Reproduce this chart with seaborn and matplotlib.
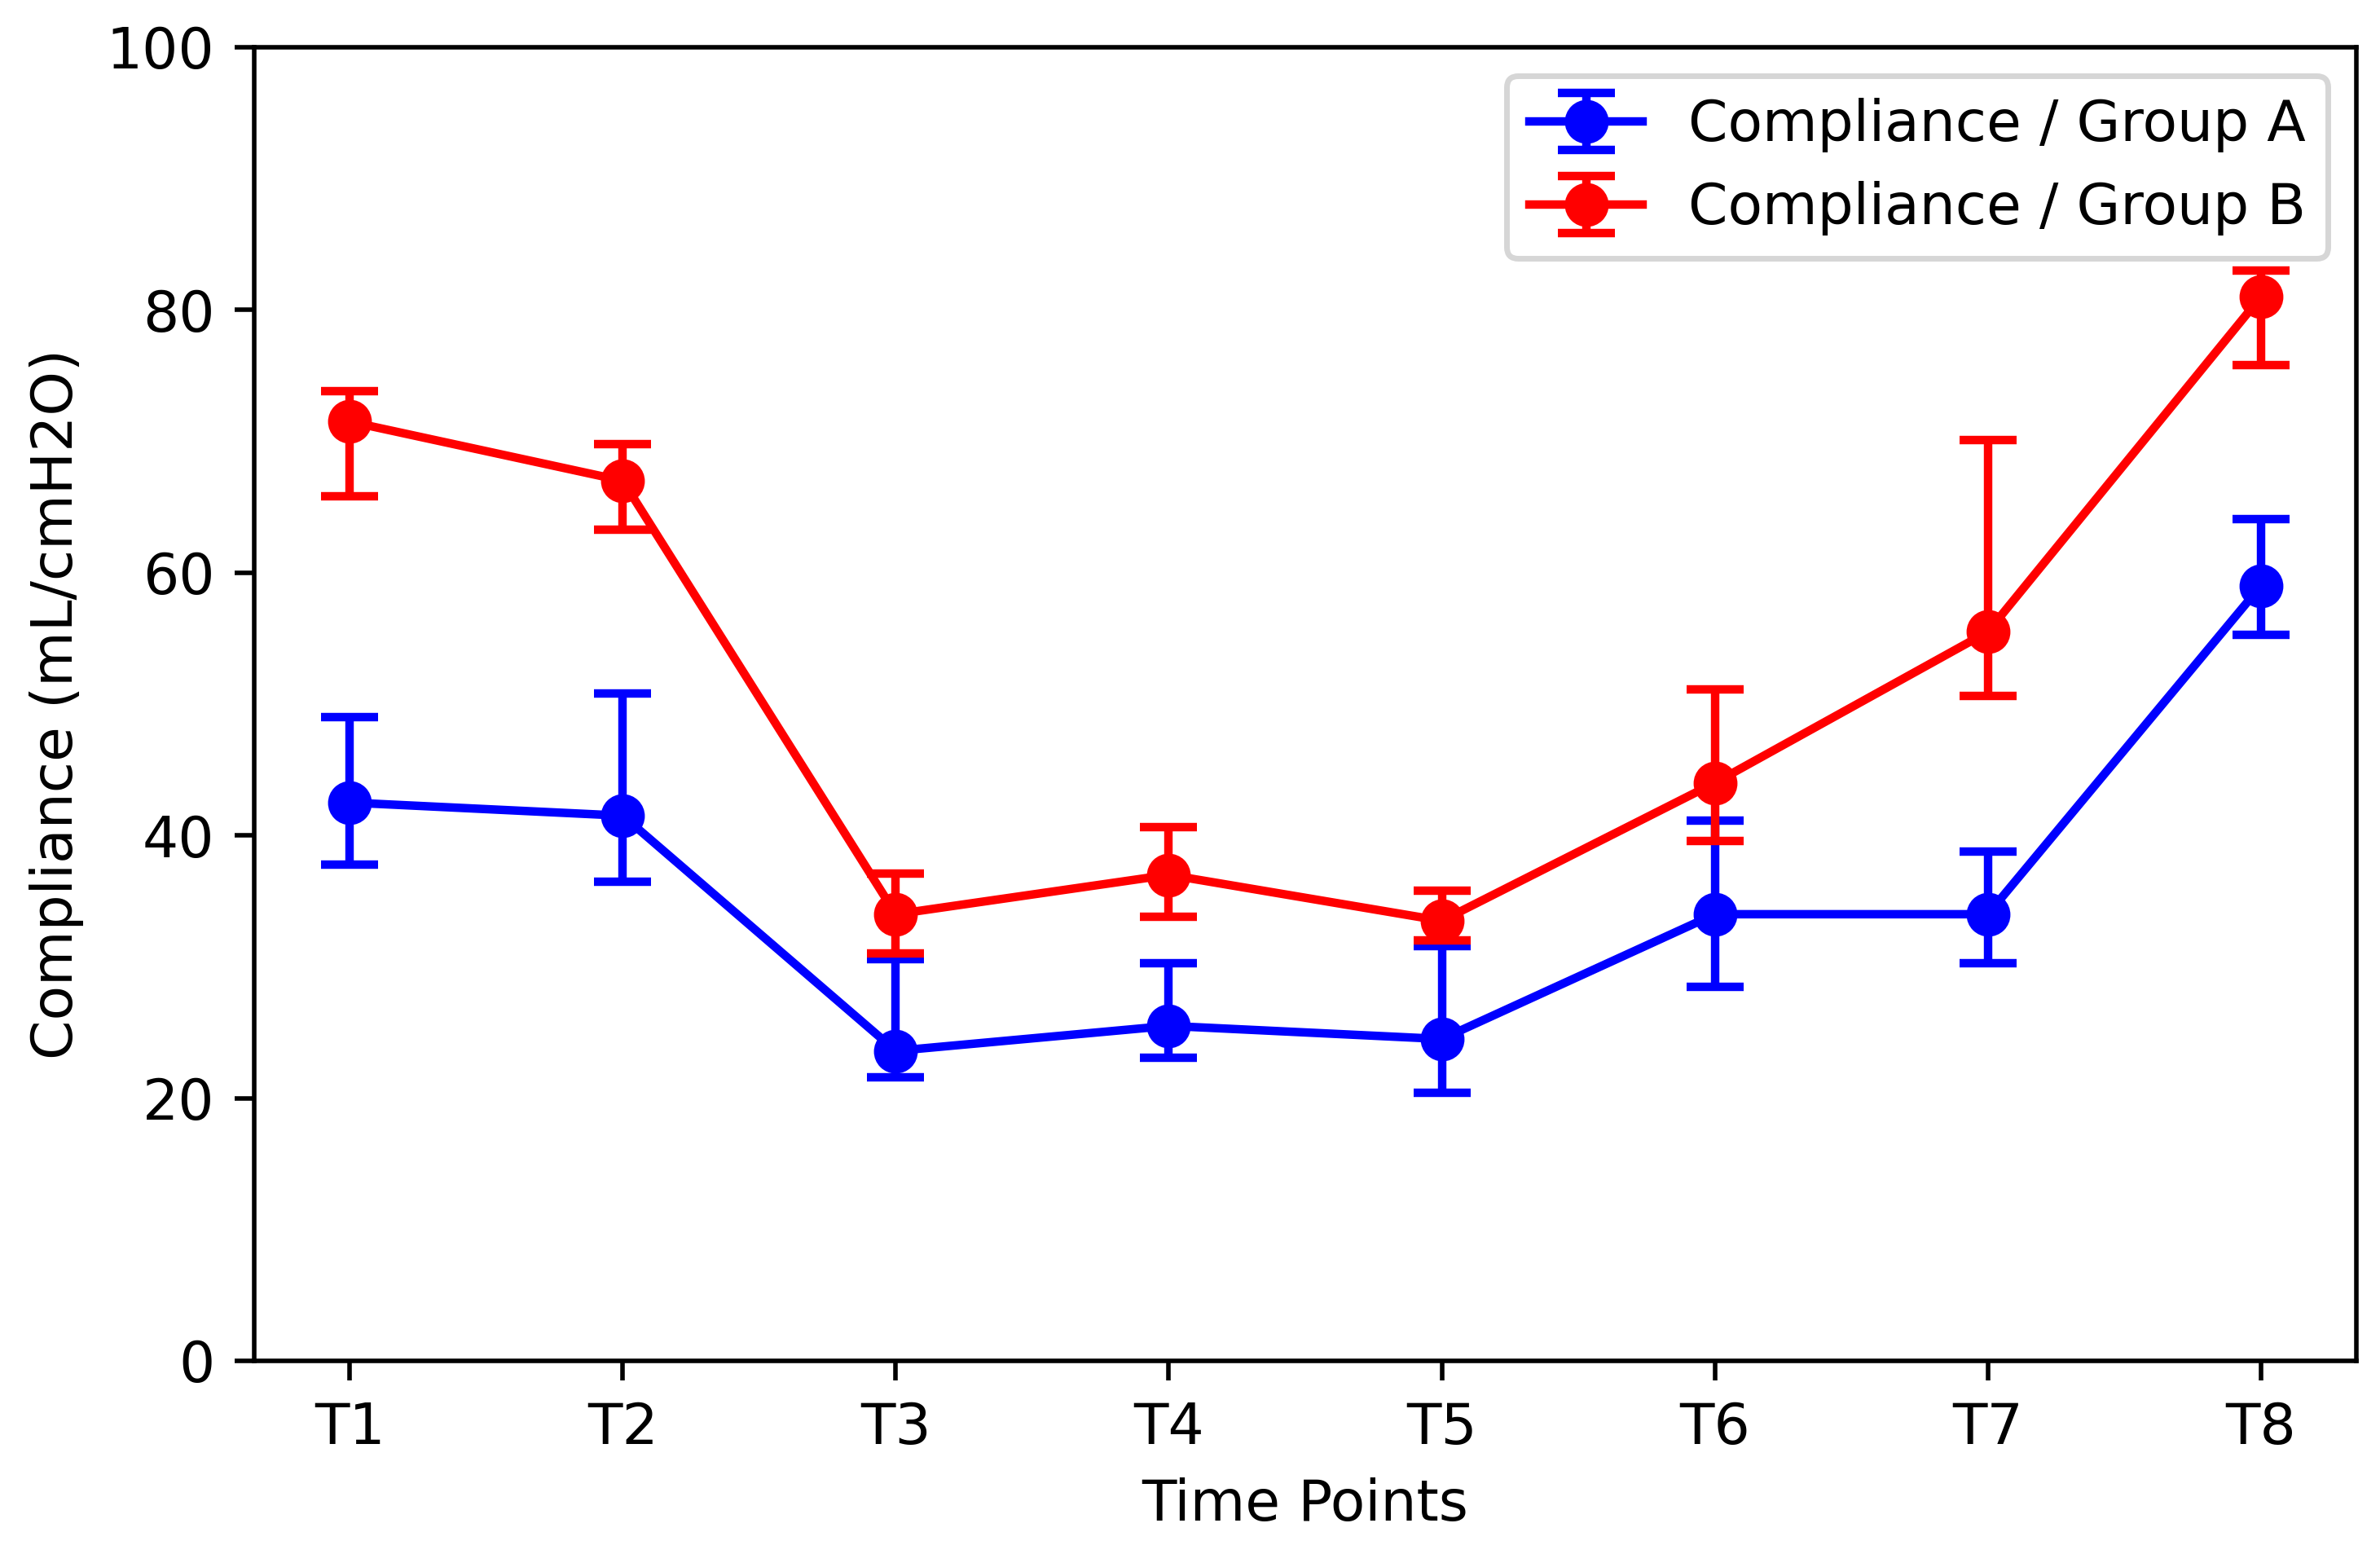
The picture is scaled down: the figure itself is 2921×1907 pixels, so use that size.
import pandas as pd
import matplotlib
matplotlib.use('Agg')
import matplotlib.pyplot as plt
import seaborn as sns

# Данные
time_points = ['T1', 'T2', 'T3', 'T4', 'T5', 'T6', 'T7', 'T8']

group_a_mean = [42.5, 41.5, 23.6, 25.5, 24.5, 34.0, 34.0, 59.0]
group_a_low = [37.8, 36.5, 21.6, 23.1, 20.4, 28.5, 30.3, 55.3]
group_a_high = [49.0, 50.8, 30.6, 30.3, 31.6, 41.1, 38.8, 64.1]

group_b_mean = [71.5, 67.0, 34.0, 37.0, 33.5, 44.0, 55.5, 81.0]
group_b_low = [65.8, 63.3, 31.0, 33.8, 32.0, 39.6, 50.6, 75.8]
group_b_high = [73.8, 69.8, 37.1, 40.6, 35.8, 51.1, 70.1, 83.0]

series = [
    ('Compliance / Group A', 'blue', group_a_mean, group_a_low, group_a_high),
    ('Compliance / Group B', 'red', group_b_mean, group_b_low, group_b_high),
]

fig = plt.figure(figsize=(2921 / 500, 1907 / 500), dpi=500)
ax = fig.add_axes([0.1068, 0.1243, 0.8833, 0.8453])

handles = []
labels = []
for label, color, mean, low, high in series:
    df = pd.DataFrame({'time': time_points, 'value': mean})
    yerr = [[m - l for m, l in zip(mean, low)], [h - m for h, m in zip(high, mean)]]
    eb = ax.errorbar(df['time'], df['value'], yerr=yerr, fmt='none',
                     ecolor=color, elinewidth=1.5, capsize=5, capthick=1.5)
    sns.lineplot(data=df, x='time', y='value', ax=ax, color=color, marker='o',
                 markersize=7, markeredgecolor=color, linewidth=1.5,
                 sort=False, legend=False)
    handles.append((ax.get_lines()[-1], eb))
    labels.append(label)

ax.set_ylim(0, 100)
ax.set_xlabel('Time Points')
ax.set_ylabel('Compliance (mL/cmH2O)')
ax.legend(handles, labels, loc='upper right')

plt.savefig('out.png', dpi=500)
plt.close()
